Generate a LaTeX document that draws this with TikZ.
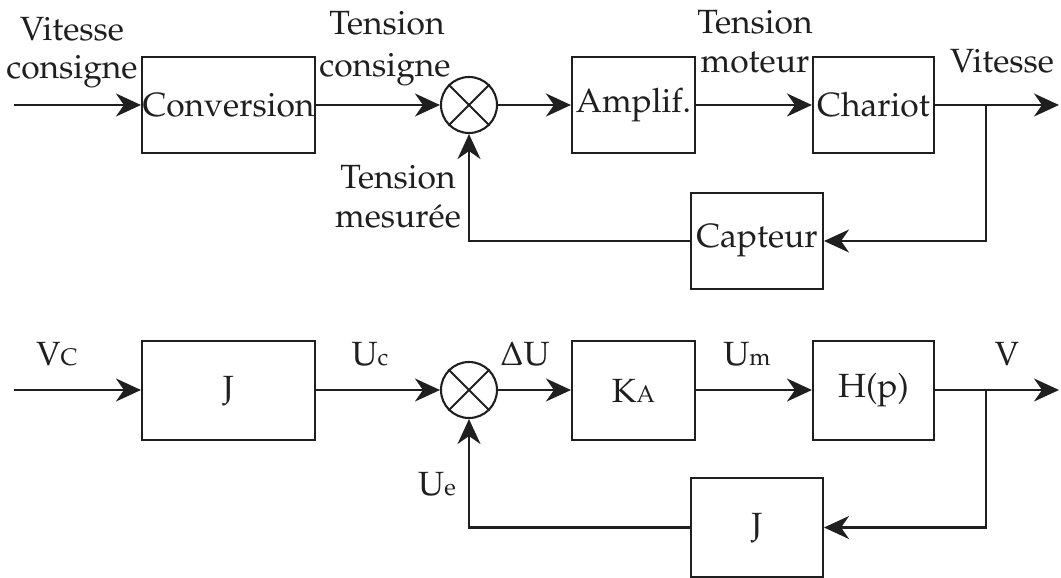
\documentclass[tikz,border=0pt]{standalone}
\usepackage[T1]{fontenc}
\usepackage{mathpazo}
\usetikzlibrary{arrows.meta}
\begin{document}
\begin{tikzpicture}[x=0.5pt,y=-0.5pt,
  line width=1.05pt, color=black!88,
  every node/.style={font=\fontsize{16.8}{20}\selectfont},
  blk/.style={draw, inner sep=0pt, minimum height=48pt},
  blkb/.style={draw, inner sep=0pt, minimum height=49.5pt},
  sumc/.style={draw, circle, inner sep=0pt, minimum size=28pt},
  lbl/.style={anchor=base, inner sep=0pt},
  arr/.style={-{Stealth[length=12.5pt,width=11.5pt,inset=4pt]}}]
\newcommand{\sub}[1]{{\fontsize{12}{13}\selectfont #1}}
\useasboundingbox (0,0) rectangle (1061,578);

% ---------- top diagram ----------
\node[blk, minimum width=86.5pt] (conv) at (228.5,105) {Conversion};
\node[sumc] (s1) at (469,105) {};
\draw (s1.north west) -- (s1.south east) (s1.north east) -- (s1.south west);
\node[blk, minimum width=61.5pt] (amp) at (633.5,105) {Amplif.};
\node[blk, minimum width=60.5pt] (char) at (873.5,105) {Chariot};
\node[blk, minimum width=66pt] (capt) at (757,241) {Capteur};
\coordinate (in1) at (14,105);
\coordinate (out1) at (1059,105);
\coordinate (br1) at (986,105);

\draw[arr] (in1) -- (conv);
\draw[arr] (conv) -- (s1);
\draw[arr] (s1) -- (amp);
\draw[arr] (amp) -- (char);
\draw[arr] (char) -- (out1);
\draw[arr] (br1) |- (capt);
\draw[arr] (capt) -| (s1);

\node[lbl] (l1a) at (72,40) {Vitesse};
\node[lbl] (l1b) at (72,78) {consigne};
\node[lbl] (l2a) at (387,34) {Tension};
\node[lbl] (l2b) at (385,76) {consigne};
\node[lbl] (l3a) at (755,33) {Tension};
\node[lbl] (l3b) at (755,72) {moteur};
\node[lbl] (l4) at (1002,72) {Vitesse};
\node[lbl] (l5a) at (398,188) {Tension};
\node[lbl] (l5b) at (398,227) {mesurée};

% ---------- bottom diagram ----------
\node[blkb, minimum width=86.5pt] (J1) at (228.5,390.5) {J};
\node[sumc] (s2) at (469,390) {};
\draw (s2.north west) -- (s2.south east) (s2.north east) -- (s2.south west);
\node[blkb, minimum width=61.5pt] (KA) at (633.5,390.5) {K\sub{A}};
\node[blkb, minimum width=60.5pt] (H) at (873.5,390.5) {H(p)};
\node[blkb, minimum width=66pt] (J2) at (757,527.5) {J};
\coordinate (in2) at (14,390);
\coordinate (out2) at (1059,390);
\coordinate (br2) at (986,390);

\draw[arr] (in2) -- (J1.west |- in2);
\draw[arr] (J1.east |- s2) -- (s2);
\draw[arr] (s2) -- (KA.west |- s2);
\draw[arr] (KA.east |- s2) -- (H.west |- s2);
\draw[arr] (H.east |- s2) -- (out2);
\draw[arr] (br2) |- (J2);
\draw[arr] (J2) -| (s2);

\node[lbl] (m1) at (57,365) {V\sub{C}};
\node[lbl] (m2) at (370,365) {U\sub{c}};
\node[lbl] (m3) at (525,365) {$\Delta$U};
\node[lbl] (m4) at (747,365) {U\sub{m}};
\node[lbl] (m5) at (1007,365) {V};
\node[lbl] (m6) at (437,495) {U\sub{e}};
\end{tikzpicture}
\end{document}
